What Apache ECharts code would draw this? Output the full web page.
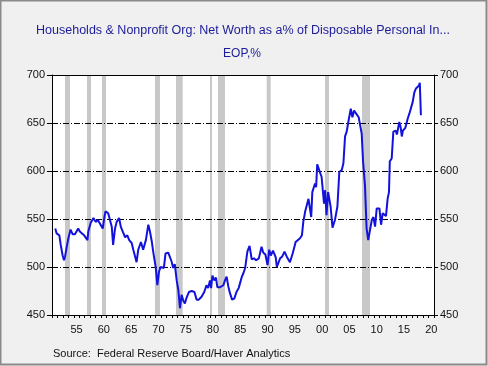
<!DOCTYPE html>
<html><head><meta charset="utf-8">
<script src="https://cdn.jsdelivr.net/npm/echarts@6/dist/echarts.min.js"></script>
<style>html,body{margin:0;padding:0;background:#f0f0f0}#c{width:488px;height:366px}</style>
</head><body><div id="c"></div>
<script>
// Quarterly-ish readings: decimal year and value (% of disposable personal income)
var dates = [1951.6,1951.85,1952.1,1952.35,1952.6,1952.95,1953.2,1953.4,1953.7,1954.0,1954.4,1954.8,1955.2,1955.5,1955.8,1956.1,1956.5,1956.9,1957.2,1957.5,1957.65,1958.1,1958.6,1959.0,1959.4,1959.8,1960.3,1960.6,1960.8,1961.3,1961.6,1961.95,1962.2,1962.55,1962.85,1963.3,1963.6,1963.95,1964.4,1964.8,1965.15,1965.6,1965.9,1966.2,1966.5,1966.8,1967.3,1967.7,1968.2,1968.65,1968.95,1969.3,1969.6,1970.0,1970.3,1970.6,1970.9,1971.2,1971.5,1971.8,1972.3,1972.6,1972.9,1973.2,1973.5,1973.85,1974.15,1974.45,1974.75,1975.05,1975.35,1975.6,1976.1,1976.6,1977.1,1977.5,1977.9,1978.4,1978.9,1979.3,1979.6,1979.95,1980.15,1980.4,1980.75,1981.05,1981.3,1981.8,1982.1,1982.4,1982.7,1983.0,1983.3,1983.6,1984.0,1984.4,1984.8,1985.2,1985.5,1985.8,1986.1,1986.4,1986.8,1987.2,1987.6,1988.0,1988.4,1988.9,1989.4,1989.7,1990.1,1990.5,1990.8,1991.1,1991.5,1992.0,1992.2,1992.8,1993.2,1993.6,1994.0,1994.6,1995.1,1995.65,1996.0,1996.45,1996.8,1997.05,1997.4,1997.7,1998.0,1998.2,1998.5,1998.7,1999.0,1999.2,1999.4,1999.6,1999.9,2000.2,2000.4,2000.85,2001.05,2001.3,2001.6,2002.05,2002.4,2002.85,2003.3,2003.65,2004.1,2004.4,2004.7,2005.0,2005.3,2005.75,2006.05,2006.35,2006.7,2007.2,2007.45,2007.75,2008.0,2008.35,2008.65,2008.95,2009.25,2009.6,2009.9,2010.2,2010.5,2011.0,2011.3,2011.6,2011.9,2012.2,2012.5,2012.75,2012.9,2013.25,2013.55,2014.0,2014.2,2014.65,2014.9,2015.1,2015.3,2015.75,2016.2,2016.5,2016.7,2017.1,2017.4,2017.7,2017.9,2018.25,2018.4,2018.6];
var values = [540,535,537,533,523,512,507,511,521,530,539,534,534,536,540,537,535,533,535,528,537,546,551,547,549,545,540,552,558,556,558,542,523,540,547,551,542,537,531,533,528,525,518,519,505,518,526,518,528,544,537,526,514,500,481,495,500,499,499,514,515,514,506,499,503,486,476,457,471,465,462,467,474,475,474,466,466,469,474,481,478,486,478,491,486,489,479,479,478,481,486,490,480,473,466,467,474,478,484,490,494,499,516,522,508,509,507,509,521,515,513,502,518,512,517,510,500,509,511,516,511,505,514,526,528,530,533,547,558,557,571,570,552,578,580,587,583,607,608,597,594,566,580,554,578,563,541,549,563,599,601,608,636,641,651,665,656,663,660,656,655,639,610,585,540,528,528,549,552,542,561,561,544,556,556,553,571,578,610,613,641,642,638,651,645,636,642,645,655,660,662,672,682,686,684,689,692,658];
var recessionStart = [1953.38,1957.41,1960.16,1969.87,1973.72,1979.95,1981.42,1990.34,2001.03,2007.81];
var recessionEnd   = [1954.30,1958.15,1960.90,1970.79,1974.95,1980.32,1982.70,1991.07,2001.76,2009.27];
// Labels sit at mid-year, between the yearly ticks
var xLabelYears = [1955,1960,1965,1970,1975,1980,1985,1990,1995,2000,2005,2010,2015,2020];
var yTicks = [450,500,550,600,650,700];

var chart = echarts.init(document.getElementById('c'), null, {renderer:'canvas'});
var lineData = dates.map(function(d,i){return [d, values[i]];});
var areas = recessionStart.map(function(s,i){return [{xAxis:s},{xAxis:recessionEnd[i]}];});
var labelPos = xLabelYears.map(function(y){return y + 0.5;});
var font = 'Liberation Sans, Arial, sans-serif';
chart.setOption({
  backgroundColor:'#f0f0f0',
  animation:false,
  graphic:[
    {type:'rect', shape:{x:0.5,y:0.5,width:486,height:364}, style:{fill:null, stroke:'#8a8a8a', lineWidth:2}, silent:true},
    {type:'text', x:243, y:31, style:{text:'Households & Nonprofit Org: Net Worth as a% of Disposable Personal In...', fill:'#1c1c9a', font:'12.5px '+font, textAlign:'center', textVerticalAlign:'middle'}},
    {type:'text', x:242, y:54, style:{text:'EOP,%', fill:'#1c1c9a', font:'12px '+font, textAlign:'center', textVerticalAlign:'middle'}},
    {type:'text', x:53, y:354, style:{text:'Source:  Federal Reserve Board/Haver Analytics', fill:'#111', font:'11px '+font, textAlign:'left', textVerticalAlign:'middle'}}
  ],
  grid:{left:52, right:54, top:75, bottom:51, show:true, backgroundColor:'#ffffff', borderWidth:0},
  xAxis:[
    {type:'value', min:1951, max:2021, interval:1, position:'bottom', z:3,
     axisLine:{show:true, lineStyle:{color:'#000', width:1}},
     axisTick:{show:true, length:3, lineStyle:{color:'#000'}},
     axisLabel:{show:false}, splitLine:{show:false}},
    {type:'value', min:1951, max:2021, position:'bottom', z:3,
     axisLine:{show:false}, axisTick:{show:false}, splitLine:{show:false},
     axisLabel:{color:'#111', fontSize:11, fontFamily:font, margin:9, hideOverlap:false,
       customValues:labelPos,
       formatter:function(v){return String(Math.floor(v)).slice(2);}}},
    {type:'value', min:1951, max:2021, position:'top', z:3,
     axisLine:{show:true, lineStyle:{color:'#000', width:1}}, axisTick:{show:false}, axisLabel:{show:false}, splitLine:{show:false}}
  ],
  yAxis:[
    {type:'value', min:450, max:700, interval:50, position:'left', z:3,
     axisLine:{show:true, lineStyle:{color:'#000'}},
     axisTick:{show:true, length:5, lineStyle:{color:'#000'}},
     axisLabel:{color:'#111', fontSize:11, fontFamily:font, margin:7, hideOverlap:false,
       formatter:function(v){return yTicks.indexOf(v)>=0?String(v):'';}},
     splitLine:{show:true, lineStyle:{color:'#000', width:1, type:[6,2,1,2]}}},
    {type:'value', min:450, max:700, interval:50, position:'right', z:3,
     axisLine:{show:true, lineStyle:{color:'#000'}},
     axisTick:{show:true, length:4, lineStyle:{color:'#000'}},
     axisLabel:{color:'#111', fontSize:11, fontFamily:font, margin:6, hideOverlap:false},
     splitLine:{show:false}}
  ],
  series:[
    {type:'line', xAxisIndex:0, yAxisIndex:0, data:[], z:1, silent:true,
     markArea:{silent:true, z:1, itemStyle:{color:'#c8c8c8'}, data:areas}},
    {type:'line', xAxisIndex:0, yAxisIndex:0, data:lineData, z:5, symbol:'none',
     lineStyle:{color:'#1212dc', width:2}}
  ]
});
</script></body></html>
